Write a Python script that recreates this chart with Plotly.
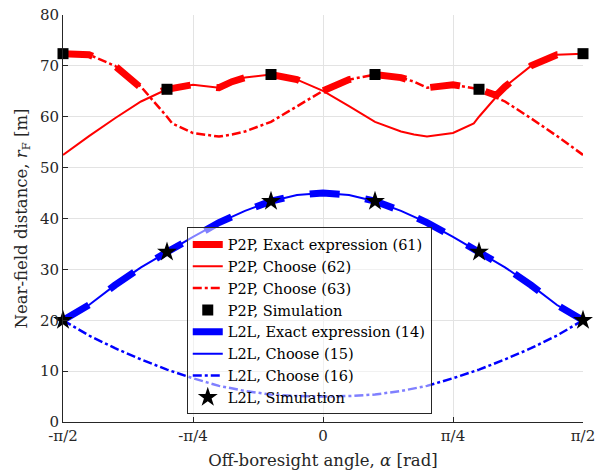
import numpy as np
import plotly.graph_objects as go

PI = np.pi

# ---- data (alpha given in units of pi) ----
# L2L curves
l2l_alpha = [-0.5, -0.45, -0.4, -0.35, -0.3, -0.25, -0.2, -0.15, -0.1, -0.05, 0.0,
             0.05, 0.1, 0.15, 0.2, 0.25, 0.3, 0.35, 0.4, 0.45, 0.5]
l2l_exact = [20.0, 23.0, 26.9, 30.4, 33.4, 36.4, 39.2, 41.5, 43.4, 44.6, 45.0,
             44.6, 43.4, 41.5, 39.2, 36.4, 33.4, 30.4, 26.9, 23.0, 20.0]
l2l_choose15 = [20.0, 23.0, 26.9, 30.4, 33.4, 36.4, 39.2, 41.5, 43.4, 44.6, 45.0,
                44.6, 43.4, 41.5, 39.2, 36.4, 33.4, 30.4, 26.9, 23.0, 20.0]
l2l_choose16 = [20.0, 17.0, 14.5, 12.3, 10.3, 8.6, 7.1, 6.1, 5.4, 5.1, 5.0,
                5.1, 5.4, 6.1, 7.1, 8.6, 10.3, 12.3, 14.5, 17.0, 20.0]

# P2P curves
p2p_alpha = [-0.5, -0.45, -0.4, -0.35, -0.3, -0.29, -0.25, -0.2, -0.175, -0.15, -0.1, -0.05, 0.0,
             0.05, 0.1, 0.15, 0.175, 0.2, 0.25, 0.29, 0.3, 0.35, 0.4, 0.45, 0.5]
p2p_choose62 = [52.5, 56.2, 59.7, 63.0, 65.4, 65.6, 66.3, 65.7, 66.9, 67.7, 68.3, 67.3, 65.1,
                62.1, 59.0, 57.1, 56.5, 56.1, 56.8, 58.7, 60.0, 65.9, 70.0, 72.2, 72.4]
p2p_choose63 = [72.4, 72.2, 70.0, 65.9, 60.0, 58.7, 56.8, 56.1, 56.5, 57.1, 59.0, 62.1, 65.1,
                67.3, 68.3, 67.7, 66.9, 65.7, 66.3, 65.6, 65.4, 63.0, 59.7, 56.2, 52.5]
p2p_exact_alpha = [-0.5, -0.45, -0.4, -0.35, -0.333, -0.3, -0.29, -0.25, -0.2, -0.175, -0.15, -0.1,
                   -0.05, 0.0, 0.05, 0.1, 0.15, 0.175, 0.2, 0.25, 0.29, 0.3, 0.333, 0.35, 0.4,
                   0.45, 0.5]
p2p_exact = [72.4, 72.2, 70.0, 65.9, 64.2, 65.4, 65.6, 66.3, 65.7, 66.9, 67.7, 68.3,
             67.3, 65.1, 67.3, 68.3, 67.7, 66.9, 65.7, 66.3, 65.6, 65.4, 64.2, 65.9, 70.0,
             72.2, 72.4]

# Simulation points
sim_alpha = [-0.5, -0.3, -0.1, 0.1, 0.3, 0.5]
p2p_sim = [72.4, 65.4, 68.3, 68.3, 65.4, 72.4]
l2l_sim = [20.0, 33.4, 43.4, 43.4, 33.4, 20.0]

x_tickvals = [-0.5, -0.25, 0.0, 0.25, 0.5]
x_ticktext = ["-π/2", "-π/4", "0", "π/4", "π/2"]
y_tickvals = [0, 10, 20, 30, 40, 50, 60, 70, 80]

RED = "#ff0000"
BLUE = "#0000ff"
THICK_DASH = "30px,26px"

def rad(a):
    return [v * PI for v in a]

fig = go.Figure()
fig.add_trace(go.Scatter(x=rad(p2p_exact_alpha), y=p2p_exact, mode="lines",
                         line=dict(color=RED, width=7, dash=THICK_DASH),
                         name="P2P, Exact expression (61)"))
fig.add_trace(go.Scatter(x=rad(p2p_alpha), y=p2p_choose62, mode="lines",
                         line=dict(color=RED, width=2),
                         name="P2P, Choose (62)"))
fig.add_trace(go.Scatter(x=rad(p2p_alpha), y=p2p_choose63, mode="lines",
                         line=dict(color=RED, width=2.5, dash="dashdot"),
                         name="P2P, Choose (63)"))
fig.add_trace(go.Scatter(x=rad(sim_alpha), y=p2p_sim, mode="markers",
                         marker=dict(symbol="square", size=11, color="black"),
                         cliponaxis=False, name="P2P, Simulation"))
fig.add_trace(go.Scatter(x=rad(l2l_alpha), y=l2l_exact, mode="lines",
                         line=dict(color=BLUE, width=7, dash=THICK_DASH),
                         name="L2L, Exact expression (14)"))
fig.add_trace(go.Scatter(x=rad(l2l_alpha), y=l2l_choose15, mode="lines",
                         line=dict(color=BLUE, width=2),
                         name="L2L, Choose (15)"))
fig.add_trace(go.Scatter(x=rad(l2l_alpha), y=l2l_choose16, mode="lines",
                         line=dict(color=BLUE, width=2.5, dash="dashdot"),
                         name="L2L, Choose (16)"))
fig.add_trace(go.Scatter(x=rad(sim_alpha), y=l2l_sim, mode="markers",
                         marker=dict(symbol="star", size=15, color="black"),
                         cliponaxis=False, name="L2L, Simulation"))

FONT = "DejaVu Serif, serif"
fig.update_layout(
    width=598, height=476,
    margin=dict(l=63, r=15, t=15, b=54),
    paper_bgcolor="white", plot_bgcolor="white",
    font=dict(family=FONT, size=15, color="#262626"),
    showlegend=True,
    legend=dict(x=0.238, y=0.478, xanchor="left", yanchor="top",
                bgcolor="rgba(255,255,255,0.5)", bordercolor="#262626", borderwidth=1,
                font=dict(family=FONT, size=14.5, color="black"),
                tracegroupgap=0),
    xaxis=dict(range=[-PI / 2, PI / 2], tickmode="array",
               tickvals=rad(x_tickvals), ticktext=x_ticktext,
               showgrid=True, gridcolor="#e3e3e3", gridwidth=1,
               showline=True, linecolor="#262626", linewidth=1,
               ticks="inside", ticklen=5, tickcolor="#262626",
               zeroline=False, automargin=False,
               title=dict(text="Off-boresight angle, <i>α</i> [rad]", font=dict(size=16.5), standoff=10)),
    yaxis=dict(range=[0, 80], tickmode="array", tickvals=y_tickvals,
               showgrid=True, gridcolor="#e3e3e3", gridwidth=1,
               showline=True, linecolor="#262626", linewidth=1,
               ticks="inside", ticklen=5, tickcolor="#262626",
               zeroline=False, automargin=False,
               title=dict(text="Near-field distance, <i>r</i><sub>F</sub> [m]", font=dict(size=16.5), standoff=8)),
)

fig.write_html("out.html")
